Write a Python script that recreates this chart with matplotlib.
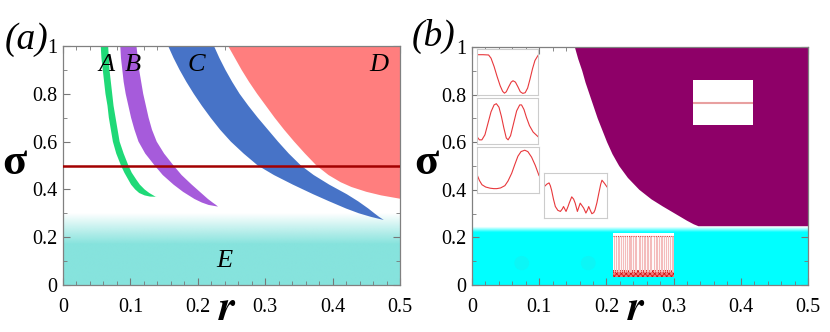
import numpy as np
import matplotlib.pyplot as plt
from matplotlib.patches import Rectangle, Ellipse

plt.rcParams["font.family"] = ["Liberation Serif", "DejaVu Serif"]
plt.rcParams["mathtext.fontset"] = "stix"
plt.rcParams["hatch.linewidth"] = 0.5

W, H = 830, 332

# ===================== data =====================
r_ticks = [0, 0.1, 0.2, 0.3, 0.4, 0.5]
r_labels = ["0", "0.1", "0.2", "0.3", "0.4", "0.5"]
s_ticks = [0, 0.2, 0.4, 0.6, 0.8, 1.0]
s_labels = ["0", "0.2", "0.4", "0.6", "0.8", "1"]

sig_A = [1.0, 0.95, 0.9, 0.85, 0.8, 0.75, 0.7, 0.65, 0.6, 0.55, 0.5, 0.47, 0.44,
         0.42, 0.40, 0.385, 0.375, 0.37, 0.369]
A_left = [0.056, 0.057, 0.059, 0.061, 0.063, 0.066, 0.068, 0.071, 0.074, 0.079, 0.086,
          0.091, 0.097, 0.101, 0.107, 0.113, 0.121, 0.129, 0.139]
A_right = [0.067, 0.068, 0.069, 0.071, 0.073, 0.075, 0.078, 0.081, 0.084, 0.090, 0.097,
           0.102, 0.109, 0.114, 0.121, 0.128, 0.134, 0.137, 0.139]

sig_B = [1.0, 0.95, 0.9, 0.85, 0.8, 0.75, 0.7, 0.65, 0.6, 0.55, 0.5, 0.46, 0.42,
         0.39, 0.36, 0.345, 0.335, 0.328]
B_left = [0.085, 0.086, 0.088, 0.090, 0.093, 0.097, 0.101, 0.106, 0.112, 0.122, 0.136,
          0.148, 0.164, 0.178, 0.195, 0.206, 0.216, 0.230]
B_right = [0.109, 0.111, 0.113, 0.116, 0.119, 0.123, 0.127, 0.132, 0.139, 0.150, 0.164,
           0.176, 0.191, 0.203, 0.215, 0.222, 0.227, 0.230]

sig_C = [1.0, 0.95, 0.9, 0.85, 0.8, 0.75, 0.7, 0.65, 0.6, 0.55, 0.5, 0.46, 0.42,
         0.38, 0.35, 0.32, 0.30, 0.285, 0.272]
C_left = [0.156, 0.164, 0.173, 0.183, 0.194, 0.206, 0.219, 0.233, 0.249, 0.268, 0.289,
          0.313, 0.341, 0.371, 0.395, 0.420, 0.439, 0.457, 0.476]
C_right = [0.224, 0.232, 0.241, 0.251, 0.262, 0.275, 0.289, 0.304, 0.319, 0.335, 0.353,
           0.372, 0.395, 0.421, 0.438, 0.453, 0.462, 0.469, 0.476]

sig_D = [1.0, 0.95, 0.9, 0.85, 0.8, 0.75, 0.7, 0.65, 0.6, 0.55, 0.5, 0.46, 0.43,
         0.41, 0.39, 0.375, 0.365, 0.361]
D_left = [0.245, 0.255, 0.265, 0.276, 0.288, 0.301, 0.314, 0.328, 0.343, 0.359, 0.376,
          0.394, 0.412, 0.428, 0.450, 0.472, 0.492, 0.5]

sigma_line = 0.498
E_solid, E_fade = 0.17, 0.30

band_labels = ["A", "B", "C", "D", "E"]
label_r = [0.064, 0.104, 0.198, 0.468, 0.240]
label_s = [0.92, 0.92, 0.92, 0.92, 0.10]

# panel (b)
sig_P = [1.0, 0.95, 0.9, 0.85, 0.8, 0.75, 0.7, 0.65, 0.6, 0.55, 0.5, 0.45, 0.4,
         0.36, 0.33, 0.3, 0.27, 0.255, 0.247]
P_left = [0.153, 0.158, 0.164, 0.169, 0.175, 0.181, 0.187, 0.194, 0.201, 0.209, 0.219,
          0.232, 0.249, 0.267, 0.284, 0.302, 0.320, 0.330, 0.337]
cyan_solid, cyan_fade = 0.222, 0.245
blob_r = [0.074, 0.173]
blob_s = [0.092, 0.092]

# inset profiles (normalised to the inset box)
prof1_x = [0, 0.1, 0.19, 0.23, 0.28, 0.33, 0.38, 0.42, 0.45, 0.48, 0.52, 0.56, 0.59,
           0.63, 0.67, 0.71, 0.75, 0.79, 0.83, 0.87, 0.91, 0.95, 1.0]
prof1_y = [0.876, 0.876, 0.87, 0.80, 0.62, 0.40, 0.20, 0.08, 0.04, 0.07, 0.18, 0.28,
           0.31, 0.28, 0.18, 0.07, 0.035, 0.05, 0.15, 0.35, 0.57, 0.75, 0.86]
prof2_x = [0, 0.04, 0.08, 0.13, 0.18, 0.23, 0.28, 0.317, 0.36, 0.40, 0.44, 0.48, 0.51,
           0.55, 0.60, 0.65, 0.70, 0.73, 0.77, 0.81, 0.86, 0.92, 1.0]
prof2_y = [0.16, 0.09, 0.09, 0.20, 0.45, 0.70, 0.85, 0.876, 0.80, 0.60, 0.35, 0.13, 0.09,
           0.18, 0.45, 0.72, 0.85, 0.85, 0.75, 0.58, 0.40, 0.26, 0.16]
prof3_x = [0.0, 0.04, 0.08, 0.14, 0.21, 0.27, 0.32, 0.38, 0.45, 0.50, 0.56, 0.61, 0.66,
           0.71, 0.77, 0.82, 0.88, 0.94, 1.0]
prof3_y = [0.40, 0.27, 0.18, 0.13, 0.105, 0.095, 0.095, 0.11, 0.16, 0.26, 0.43, 0.62,
           0.80, 0.90, 0.93, 0.90, 0.78, 0.60, 0.38]
prof4_x = [0, 0.043, 0.08, 0.10, 0.12, 0.15, 0.18, 0.22, 0.26, 0.29, 0.31, 0.33, 0.35,
           0.38, 0.40, 0.44, 0.47, 0.495, 0.53, 0.555, 0.575, 0.60, 0.63, 0.665, 0.69,
           0.71, 0.735, 0.76, 0.79, 0.81, 0.84, 0.87, 0.90, 0.92, 0.96, 1.0]
prof4_y = [0.69, 0.75, 0.78, 0.72, 0.62, 0.42, 0.255, 0.17, 0.146, 0.20, 0.255, 0.20,
           0.146, 0.25, 0.33, 0.47, 0.42, 0.33, 0.146, 0.25, 0.33, 0.28, 0.22, 0.11, 0.18,
           0.255, 0.17, 0.095, 0.12, 0.18, 0.34, 0.55, 0.75, 0.84, 0.77, 0.69]
raster_x = [0.02, 0.05, 0.08, 0.10, 0.13, 0.17, 0.20, 0.23, 0.26, 0.28, 0.30, 0.33,
            0.36, 0.38, 0.42, 0.45, 0.47, 0.50, 0.53, 0.55, 0.58, 0.61, 0.63, 0.67,
            0.70, 0.72, 0.75, 0.78, 0.80, 0.84, 0.87, 0.90, 0.93, 0.96, 0.98]

# ===================== figure =====================
fig = plt.figure(figsize=(W / 100, H / 100), dpi=100)
SERIF = ["Liberation Serif", "DejaVu Serif"]


def px_axes(x0, y0, x1, y1):
    return fig.add_axes([x0 / W, 1 - y1 / H, (x1 - x0) / W, (y1 - y0) / H])


def style_main(ax):
    ax.set_xlim(0, 0.5)
    ax.set_ylim(0, 1)
    ax.set_xticks(r_ticks)
    ax.set_xticklabels(r_labels, family=SERIF)
    ax.set_yticks(s_ticks)
    ax.set_yticklabels(s_labels, family=SERIF)
    ax.set_xticks(np.arange(0, 0.501, 0.02), minor=True)
    ax.set_yticks(np.arange(0, 1.001, 0.1), minor=True)
    ax.tick_params(which="both", direction="in", top=True, right=True, color="#777777")
    ax.tick_params(which="major", length=5, width=0.8, labelsize=14.5)
    ax.tick_params(which="minor", length=3, width=0.6)
    ax.tick_params(axis="x", pad=9)
    ax.tick_params(axis="y", pad=4)
    for sp in ax.spines.values():
        sp.set_color("#808080")
        sp.set_linewidth(0.9)


def gradient(ax, color, s_solid, s_fade, s_top):
    n = 200
    s = np.linspace(0, s_top, n)
    alpha = np.clip((s_fade - s) / (s_fade - s_solid), 0, 1)
    rgba = np.zeros((n, 2, 4))
    rgba[..., :3] = plt.matplotlib.colors.to_rgb(color)
    rgba[..., 3] = alpha[:, None]
    ax.imshow(rgba, extent=[0, 0.5, 0, s_top], origin="lower", aspect="auto",
              interpolation="bilinear", zorder=1)


# ---------- panel (a) ----------
axa = px_axes(63, 46, 400, 285)
gradient(axa, "#86e3dd", E_solid, E_fade, 0.32)
for sig, lft, rgt, col in [(sig_A, A_left, A_right, "#1fd977"),
                           (sig_B, B_left, B_right, "#a65bdb"),
                           (sig_C, C_left, C_right, "#4773c7")]:
    xs = list(lft) + list(rgt)[::-1]
    ys = list(sig) + list(sig)[::-1]
    axa.fill(xs, ys, color=col, lw=0, zorder=2)
axa.fill(list(D_left) + [0.5, 0.5], list(sig_D) + [sig_D[-1], 1.0],
         color="#ff7e7e", lw=0, zorder=2)
axa.axhline(sigma_line, color="#a30000", lw=1.8, zorder=3)
for lab, x, y in zip(band_labels, label_r, label_s):
    axa.text(x, y, lab, fontsize=19, style="italic", family=SERIF,
             ha="center", va="center", zorder=4)
style_main(axa)

# ---------- panel (b) ----------
axb = px_axes(472, 47, 808, 285)
gradient(axb, "#00ffff", cyan_solid, cyan_fade, 0.26)
for x, y in zip(blob_r, blob_s):
    axb.add_patch(Ellipse((x, y), 0.022, 0.06, color="#0cf6f6", lw=0, zorder=1.5))
axb.fill(list(P_left) + [0.5, 0.5], list(sig_P) + [sig_P[-1], 1.0],
         color="#8e0068", lw=0, zorder=2)
style_main(axb)

# panel letters and axis titles
fig.text(27 / W, 1 - 40 / H, "(a)", fontsize=27, style="italic", family=SERIF,
         ha="center", va="center")
fig.text(434 / W, 1 - 36 / H, "(b)", fontsize=27, style="italic", family=SERIF,
         ha="center", va="center")
for xc in (14, 426):
    fig.text(xc / W, 1 - 163 / H, "σ", fontsize=32, weight="bold", family=SERIF,
             ha="center", va="center")
for xc in (228, 637):
    fig.text(xc / W, 1 - 310 / H, r"$\mathbfit{r}$", fontsize=30,
             ha="center", va="center")


def inset(x0, y0, x1, y1):
    ax = px_axes(x0, y0, x1, y1)
    ax.set_xlim(0, 1)
    ax.set_ylim(0, 1)
    ax.set_xticks([])
    ax.set_yticks([])
    for sp in ax.spines.values():
        sp.set_color("#cccccc")
        sp.set_linewidth(0.8)
    return ax


for box, px, py in [((477, 49, 538, 95), prof1_x, prof1_y),
                    ((477, 98, 538, 144), prof2_x, prof2_y),
                    ((477, 147, 539, 193), prof3_x, prof3_y),
                    ((544, 173, 607, 218), prof4_x, prof4_y)]:
    ai = inset(*box)
    ai.plot(px, py, color="#e8383c", lw=0.8)

# raster inset
ar = inset(613, 233, 674, 277)
ar.vlines(raster_x, 0.12, 0.93, color="#f4bcbc", lw=0.8)
ar.axhline(0.93, color="#e04040", lw=0.8, ls=(0, (1, 1)))
ar.add_patch(Rectangle((0, 0), 1, 0.16, facecolor="#f27a7a", edgecolor="#d01010",
                       hatch="xxxxxxx", lw=0))
for sp in ar.spines.values():
    sp.set_visible(False)

# white box in the purple region
aw = inset(693, 80, 753, 125)
aw.axhline(0.5, color="#e8a0a0", lw=1.5)
for sp in aw.spines.values():
    sp.set_visible(False)

fig.savefig("out.png", dpi=100)
